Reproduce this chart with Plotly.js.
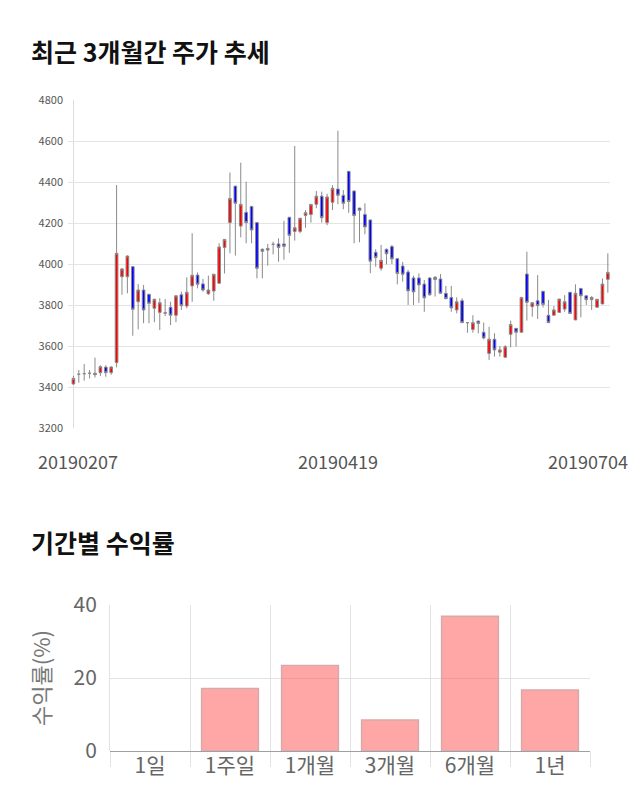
<!DOCTYPE html>
<html>
<head>
<meta charset="utf-8">
<script src="https://cdn.plot.ly/plotly-3.0.1.min.js"></script>
<style>html,body{margin:0;padding:0;background:#fff;}#chart{width:640px;height:810px;}</style>
</head>
<body>
<div id="chart"></div>
<script>
const dates = [
 "20190207","20190208","20190211","20190212","20190213","20190214","20190215","20190218","20190219","20190220",
 "20190221","20190222","20190225","20190226","20190227","20190228","20190304","20190305","20190306","20190307",
 "20190308","20190311","20190312","20190313","20190314","20190315","20190318","20190319","20190320","20190321",
 "20190322","20190325","20190326","20190327","20190328","20190329","20190401","20190402","20190403","20190404",
 "20190405","20190408","20190409","20190410","20190411","20190415","20190416","20190417","20190418","20190419",
 "20190422","20190423","20190424","20190425","20190426","20190429","20190430","20190502","20190503","20190507",
 "20190508","20190509","20190510","20190513","20190514","20190515","20190516","20190517","20190520","20190521",
 "20190522","20190523","20190524","20190527","20190528","20190529","20190530","20190531","20190603","20190604",
 "20190605","20190607","20190610","20190611","20190612","20190613","20190617","20190618","20190619","20190620",
 "20190621","20190624","20190625","20190626","20190627","20190628","20190701","20190702","20190703","20190704"
];
const openP = [
 3415,3462,3465,3467,3460,3470,3497,3470,3519,3938,
 3938,3987,3816,3873,3852,3784,3764,3760,3789,3750,
 3850,3795,3893,3946,3903,3855,3868,3906,4081,4202,
 4380,4185,4252,4281,4202,4072,4068,4096,4098,4098,
 4228,4159,4159,4237,4241,4291,4331,4202,4301,4366,
 4335,4452,4356,4273,4242,4215,4057,3979,4072,4085,
 4026,3990,3961,3932,3932,3902,3932,3935,3927,3857,
 3837,3776,3821,3714,3681,3722,3667,3564,3633,3570,
 3545,3657,3686,3667,3951,3792,3821,3867,3750,3750,
 3764,3780,3862,3727,3881,3845,3826,3789,3805,3925
];
const highP = [
 3455,3483,3512,3483,3543,3506,3506,3502,4385,3980,
 4042,3990,3902,3898,3855,3830,3833,3829,3816,3846,
 3865,3935,4150,3959,3927,3943,3950,4101,4120,4446,
 4380,4494,4402,4281,4202,4075,4098,4109,4125,4211,
 4228,4576,4225,4263,4291,4356,4353,4343,4385,4650,
 4361,4452,4360,4273,4296,4215,4072,4093,4075,4093,
 4026,4010,3971,3943,3954,3922,3935,3941,3951,3893,
 3893,3837,3833,3716,3750,3722,3714,3694,3662,3600,
 3604,3724,3686,3837,4060,3811,3946,3867,3825,3795,
 3829,3848,3862,3901,3881,3845,3843,3828,3930,4052
];
const lowP = [
 3410,3421,3431,3442,3446,3454,3450,3460,3496,3850,
 3857,3650,3681,3711,3711,3716,3678,3746,3702,3716,
 3776,3784,3816,3881,3865,3849,3821,3906,3954,4052,
 4041,4130,4101,4101,3930,3930,3992,4047,4011,4021,
 4055,4114,4150,4177,4202,4272,4202,4189,4263,4291,
 4267,4250,4101,4106,4145,3955,3987,3967,3998,4000,
 3901,3914,3800,3800,3811,3767,3845,3841,3854,3828,
 3767,3759,3714,3665,3665,3662,3632,3532,3548,3548,
 3545,3593,3597,3667,3724,3743,3732,3788,3714,3750,
 3764,3767,3759,3727,3740,3800,3776,3789,3805,3860
];
const closeP = [
 3442,3462,3465,3467,3467,3499,3470,3497,4052,3976,
 4039,3779,3873,3776,3808,3828,3811,3762,3750,3845,
 3797,3862,3945,3901,3873,3873,3950,4083,4120,4320,
 4296,4291,4202,4166,3979,4062,4076,4096,4081,4086,
 4140,4177,4223,4250,4291,4331,4226,4327,4369,4335,
 4296,4305,4236,4262,4181,4014,4031,4018,4050,4025,
 3954,3950,3869,3864,3898,3835,3850,3924,3857,3831,
 3786,3816,3714,3714,3714,3710,3639,3633,3581,3581,
 3596,3705,3667,3837,3813,3811,3797,3803,3714,3776,
 3829,3816,3759,3857,3845,3826,3837,3828,3902,3959
];
const priceTicks = [3200,3400,3600,3800,4000,4200,4400,4600,4800];
const dateLabels = ["20190207","20190419","20190704"];

const periods = ["1일","1주일","1개월","3개월","6개월","1년"];
const returns = [0, 17.1, 23.4, 8.5, 36.9, 16.7];
const returnTicks = [0, 20, 40];

const FONT = "'Noto Sans CJK KR', 'Noto Sans', sans-serif";

const candle = {
  type: 'candlestick',
  x: dates, open: openP, high: highP, low: lowP, close: closeP,
  xaxis: 'x', yaxis: 'y',
  increasing: {line: {color: '#8a8a8a', width: 1}, fillcolor: '#ff0000'},
  decreasing: {line: {color: '#8a8a8a', width: 1}, fillcolor: '#0000ff'},
  hoverinfo: 'skip'
};
const bars = {
  type: 'bar',
  x: periods, y: returns,
  xaxis: 'x2', yaxis: 'y2',
  width: 0.71,
  marker: {color: 'rgba(255,80,80,0.5)',
           line: {color: 'rgba(215,170,170,1)', width: returns.map(v => v === 0 ? 0 : 1.5)}},
  hoverinfo: 'skip'
};

const W = 640, H = 810;
const annotations = [
  {text: '<b>최근 3개월간 주가 추세</b>', xref: 'paper', yref: 'paper', x: 29/W, y: 1 - 51/H,
   xanchor: 'left', yanchor: 'middle', showarrow: false, font: {family: FONT, size: 25, color: '#111'}},
  {text: '<b>기간별 수익률</b>', xref: 'paper', yref: 'paper', x: 29/W, y: 1 - 542/H,
   xanchor: 'left', yanchor: 'middle', showarrow: false, font: {family: FONT, size: 25, color: '#111'}}
];
const dateAnchors = [['center', 5], ['center', 0], ['right', 22]];
dateLabels.forEach((d, k) => {
  annotations.push({text: d, xref: 'x', yref: 'paper', x: dates.indexOf(d), y: 1 - 461/H,
    xanchor: dateAnchors[k][0], xshift: dateAnchors[k][1], yanchor: 'middle', showarrow: false,
    font: {family: FONT, size: 18, color: '#555'}});
});

const layout = {
  width: W, height: H,
  margin: {l: 0, r: 0, t: 0, b: 0},
  paper_bgcolor: '#fff', plot_bgcolor: '#fff',
  showlegend: false,
  font: {family: FONT},
  xaxis: {
    domain: [68/W, 610/W], anchor: 'y', type: 'category',
    range: [-1, 99.4], rangeslider: {visible: false},
    tickvals: [dates[0]], showticklabels: false, ticks: '',
    showgrid: true, gridcolor: '#dcdcdc', gridwidth: 1,
    showline: false, zeroline: false, fixedrange: true
  },
  yaxis: {
    domain: [1 - 428/H, 1 - 100/H], anchor: 'x',
    range: [3200, 4800], tickvals: priceTicks,
    tickfont: {family: FONT, size: 11, color: '#555'},
    ticklabelstandoff: 4,
    showgrid: true, gridcolor: '#e4e4e4', zeroline: false, showline: false, ticks: '',
    fixedrange: true
  },
  xaxis2: {
    domain: [110/W, 590/W], anchor: 'y2', type: 'category',
    range: [-0.5, 5.5],
    tickson: 'boundaries', ticks: 'outside', ticklen: 15, tickcolor: '#e2e2e2',
    showgrid: true, gridcolor: '#e2e2e2',
    tickfont: {family: FONT, size: 21, color: '#666'},
    showline: false, zeroline: false, fixedrange: true
  },
  yaxis2: {
    domain: [1 - 751/H, 1 - 605/H], anchor: 'x2',
    range: [0, 40], tickvals: returnTicks,
    tickfont: {family: FONT, size: 21, color: '#666'},
    ticklabelstandoff: 8,
    showgrid: true, gridcolor: '#e2e2e2',
    zeroline: true, zerolinecolor: '#a0a0a0', zerolinewidth: 1,
    showline: true, linecolor: '#e2e2e2', linewidth: 1, ticks: '',
    title: {text: '수익률(%)', font: {family: FONT, size: 22, color: '#777'}, standoff: 16},
    fixedrange: true
  },
  annotations: annotations
};

Plotly.newPlot('chart', [candle, bars], layout, {displayModeBar: false, staticPlot: true});
</script>
</body>
</html>
